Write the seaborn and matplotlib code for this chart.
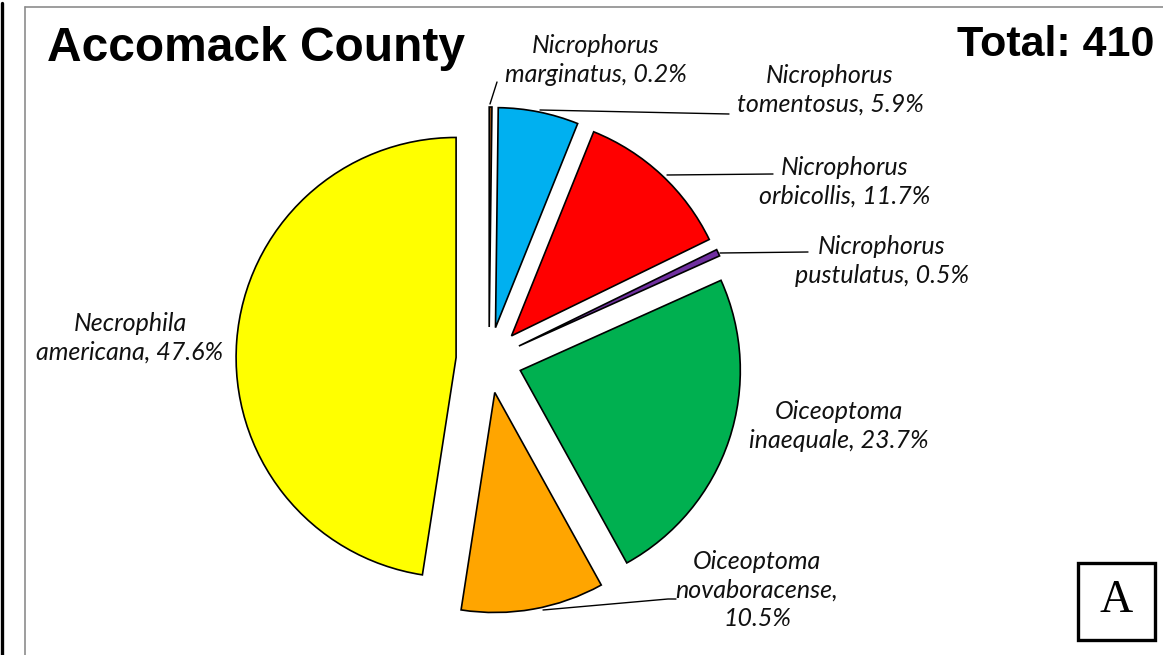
import matplotlib
matplotlib.use("Agg")
import matplotlib.pyplot as plt
import seaborn as sns
from matplotlib.patches import Rectangle
from matplotlib.lines import Line2D

# ---- data ----
species = ["Nicrophorus\nmarginatus, 0.2%", "Nicrophorus\ntomentosus, 5.9%",
           "Nicrophorus\norbicollis, 11.7%", "Nicrophorus\npustulatus, 0.5%",
           "Oiceoptoma\ninaequale, 23.7%", "Oiceoptoma\nnovaboracense,\n10.5%",
           "Necrophila\namericana, 47.6%"]
percent = [0.2, 5.9, 11.7, 0.5, 23.7, 10.5, 47.6]
colors = ["#8B4A14", "#00B0F0", "#FF0000", "#7030A0", "#00B050", "#FFA500", "#FFFF00"]
title = "Accomack County"
total_label = "Total: 410"
panel = "A"

sns.set_theme(style="white")
plt.rcParams['font.family'] = ['Lato', 'DejaVu Sans']

W, H = 1163, 655
fig = plt.figure(figsize=(W / 100, H / 100), dpi=100)
ax = fig.add_axes([0, 0, 1, 1])

def Y(y):
    return H - y

ax.pie(percent, colors=colors, startangle=90, counterclock=False,
       explode=[33] * len(percent), radius=220, center=(489, Y(360)),
       wedgeprops=dict(edgecolor="black", linewidth=1.2))
ax.set_xlim(0, W)
ax.set_ylim(0, H)
ax.set_aspect("equal")
ax.axis("off")

# labels
label_pos = [(596, 60), (830, 90), (845, 182), (882, 261), (839, 426), (757, 590), (130, 338)]
for txt, (x, y) in zip(species, label_pos):
    ax.text(x, Y(y), txt, ha="center", va="center", fontsize=18, style="italic",
            linespacing=1.3, color="#111111")

# leader lines
leaders = [
    [(490, 104), (497, 82)],
    [(540, 110), (729, 114)],
    [(667, 175), (773, 174)],
    [(720, 253), (808, 252)],
    [(543, 610), (668, 599), (676, 599)],
]
for pts in leaders:
    xs = [p[0] for p in pts]
    ys = [Y(p[1]) for p in pts]
    ax.plot(xs, ys, color="black", lw=1.0)

# titles
ax.text(47, Y(61), title, ha="left", va="baseline", fontsize=34.5, fontweight="bold",
        family="Liberation Sans", color="black")
ax.text(1154, Y(56), total_label, ha="right", va="baseline", fontsize=31, fontweight="bold",
        family="Liberation Sans", color="black")

# panel box
ax.add_patch(Rectangle((1078, Y(640)), 77, 77, fill=False, edgecolor="black", lw=2.4))
ax.text(1116, Y(601), panel, ha="center", va="center", fontsize=33, family="Liberation Serif",
        color="black")

# borders
ax.add_line(Line2D([1.5, 1.5], [Y(3), 0], color="black", lw=2.4))
ax.add_line(Line2D([25, 25], [Y(7), 0], color="#8c8c8c", lw=1.2))
ax.add_line(Line2D([25, W], [Y(7), Y(7)], color="#8c8c8c", lw=1.2))

fig.savefig("out.png", dpi=100, facecolor="white")
